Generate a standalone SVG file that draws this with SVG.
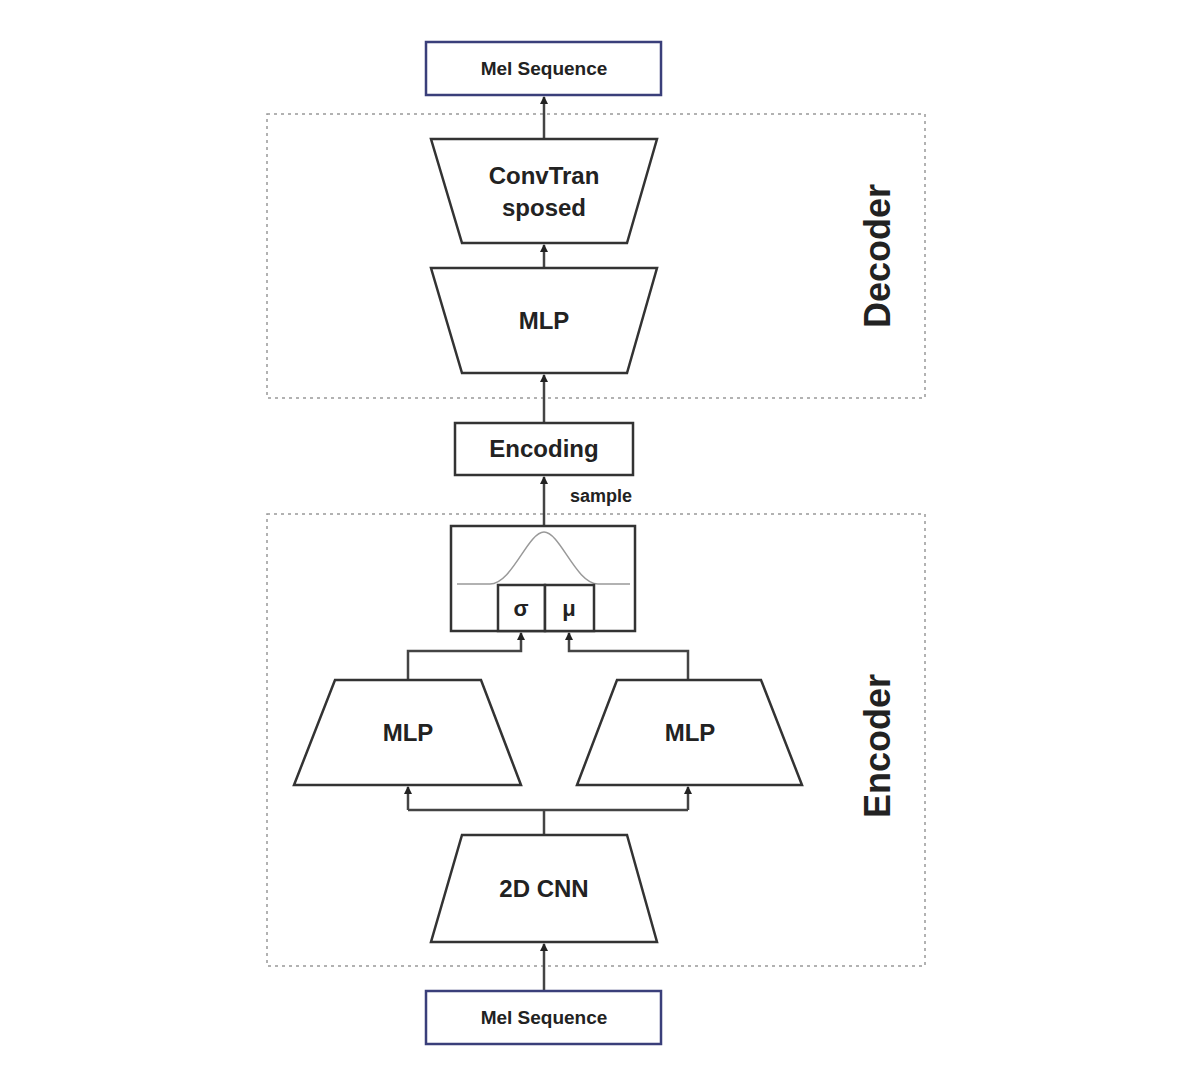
<svg xmlns="http://www.w3.org/2000/svg" width="1200" height="1084" viewBox="0 0 1200 1084">
<style>
text{font-family:"Liberation Sans",Arial,sans-serif;font-weight:bold;fill:#222;text-anchor:middle}
.n{fill:#fff;stroke:#333;stroke-width:2.5}
.mel{fill:#fff;stroke:#3a3f7a;stroke-width:2.5}
.dot{fill:none;stroke:#999;stroke-width:1.5;stroke-dasharray:3 4}
.c{fill:none;stroke:#444;stroke-width:2.5}
</style>
<defs><marker id="a" markerWidth="8" markerHeight="8" refX="7" refY="4" orient="auto" markerUnits="userSpaceOnUse"><path d="M0,0L8,4L0,8z" fill="#222"/></marker></defs>
<rect width="1200" height="1084" fill="#fff"/>
<rect class="dot" x="267" y="114" width="658" height="284"/>
<rect class="dot" x="267" y="514" width="658" height="452"/>
<text x="0" y="0" font-size="36" transform="translate(890,256) rotate(-90)">Decoder</text>
<text x="0" y="0" font-size="36" transform="translate(890,746) rotate(-90)">Encoder</text>
<g id="connectors">
<path class="c" d="M544 139V97" marker-end="url(#a)"/>
<path class="c" d="M544 268V245" marker-end="url(#a)"/>
<path class="c" d="M544 423V375" marker-end="url(#a)"/>
<path class="c" d="M544 526V477" marker-end="url(#a)"/>
<path class="c" d="M408 680V651H521V633" marker-end="url(#a)"/>
<path class="c" d="M688 680V651H569V633" marker-end="url(#a)"/>
<path class="c" d="M544 835V810"/>
<path class="c" d="M408 810H688"/>
<path class="c" d="M408 810V787" marker-end="url(#a)"/>
<path class="c" d="M688 810V787" marker-end="url(#a)"/>
<path class="c" d="M544 991V944" marker-end="url(#a)"/>
<text x="601" y="502" font-size="18">sample</text>
</g>
<g id="mel_out"><rect class="mel" x="426" y="42" width="235" height="53"/><text x="544" y="75" font-size="19">Mel Sequence</text></g>
<g id="convtrans"><path class="n" d="M431 139H657L627 243H462Z"/><text x="544" y="184" font-size="24">ConvTran</text><text x="544" y="216" font-size="24">sposed</text></g>
<g id="mlp_dec"><path class="n" d="M431 268H657L627 373H462Z"/><text x="544" y="329" font-size="24">MLP</text></g>
<g id="encoding"><rect class="n" x="455" y="423" width="178" height="52"/><text x="544" y="457" font-size="24">Encoding</text></g>
<g id="gauss"><rect class="n" x="451" y="526" width="184" height="105"/>
<path d="M457 584H490C512 584 528 532 544 532C560 532 576 584 598 584H630" fill="none" stroke="#999" stroke-width="1.5"/>
<rect class="n" x="498" y="585" width="47" height="46"/><rect class="n" x="545" y="585" width="49" height="46"/>
<text x="521" y="616" font-size="22">σ</text><text x="569" y="616" font-size="22">μ</text></g>
<g id="mlp_l"><path class="n" d="M335 680H481L521 785H294Z"/><text x="408" y="741" font-size="24">MLP</text></g>
<g id="mlp_r"><path class="n" d="M617 680H761L802 785H577Z"/><text x="690" y="741" font-size="24">MLP</text></g>
<g id="cnn"><path class="n" d="M462 835H627L657 942H431Z"/><text x="544" y="897" font-size="24">2D CNN</text></g>
<g id="mel_in"><rect class="mel" x="426" y="991" width="235" height="53"/><text x="544" y="1024" font-size="19">Mel Sequence</text></g>
</svg>
